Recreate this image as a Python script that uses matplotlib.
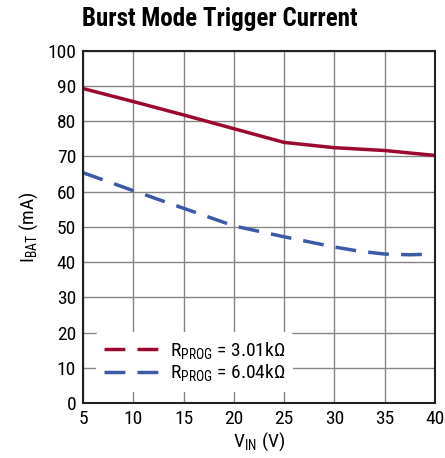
import matplotlib.pyplot as plt
from matplotlib.lines import Line2D

plt.rcParams['font.family'] = ['Roboto Condensed', 'DejaVu Sans']

# data
vin = [5, 10, 15, 20, 25, 30, 35, 40]
ibat_301k = [89.3, 85.6, 81.8, 77.9, 74.0, 72.5, 71.7, 70.3]

vin_604k = [5, 10, 15, 20, 25, 30, 32.5, 35, 37.5, 40]
ibat_604k = [65.4, 60.3, 55.3, 50.3, 47.2, 44.3, 43.1, 42.3, 42.1, 42.3]

red = '#9b0a2e'
blue = '#3d5aa8'

fig = plt.figure(figsize=(4.45, 4.58), dpi=100)
ax = fig.add_axes([0.1865, 0.120, 0.791, 0.769])

ax.plot(vin, ibat_301k, color=red, linewidth=2.5, solid_joinstyle='round')
ax.plot(vin_604k, ibat_604k, color=blue, linewidth=2.5, dashes=(6, 3.5))

ax.set_xlim(5, 40)
ax.set_ylim(0, 100)
ax.set_xticks(range(5, 41, 5))
ax.set_yticks(range(0, 101, 10))
ax.grid(True, color='#858585', linewidth=1)
ax.tick_params(length=0, labelsize=14, pad=5)
for s in ax.spines.values():
    s.set_linewidth(1.5)
    s.set_color('#222222')

ax.set_xlabel('V$_{\\mathregular{IN}}$ (V)', fontsize=14, labelpad=2)
ax.set_ylabel('I$_{\\mathregular{BAT}}$ (mA)', fontsize=14, labelpad=5)
fig.text(0.495, 0.958, 'Burst Mode Trigger Current', fontsize=18, fontweight='bold',
         ha='center', va='center')

handles = [Line2D([], [], color=red, linewidth=2.5, dashes=(6, 3.5)),
           Line2D([], [], color=blue, linewidth=2.5, dashes=(6, 3.5))]
labels = ['R$_{\\mathregular{PROG}}$ = 3.01kΩ', 'R$_{\\mathregular{PROG}}$ = 6.04kΩ']
ax.legend(handles, labels, loc='lower left', bbox_to_anchor=(0.01, 0.005),
          frameon=True, facecolor='white', edgecolor='none', framealpha=1,
          fontsize=14, handlelength=3.0, labelspacing=0.05, borderpad=0.4,
          handletextpad=0.4)

plt.savefig('out.png', dpi=100)
